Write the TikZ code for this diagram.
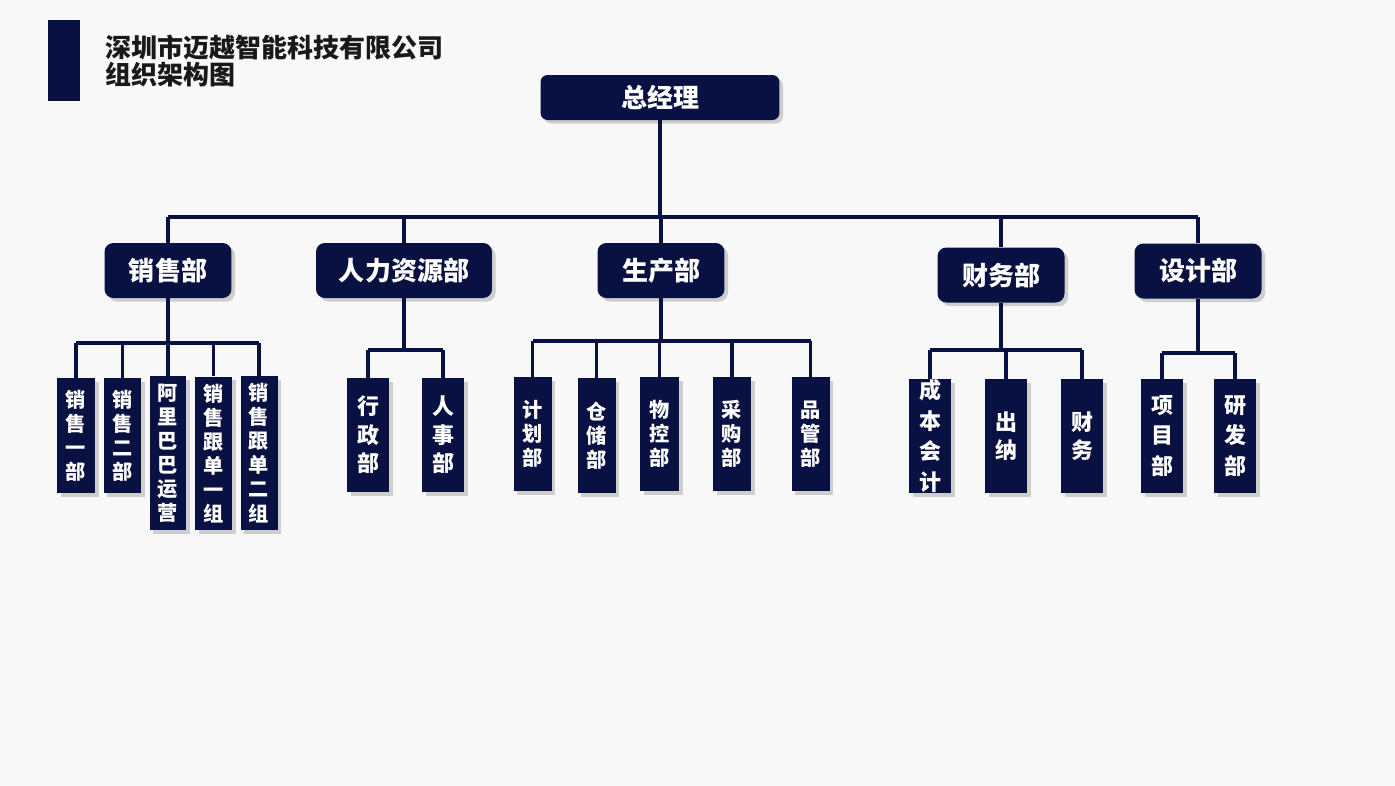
\documentclass[tikz,border=0pt]{standalone}
\usepackage{fontspec}
\setmainfont{Noto Sans CJK SC}
\usetikzlibrary{shadows}
\definecolor{navy}{RGB}{9,17,66}
\definecolor{paper}{RGB}{248,248,249}

\begin{document}
\begin{tikzpicture}[
    x=0.02cm, y=-0.02cm,
    head/.style={rectangle, rounded corners=4pt, fill=navy, text=white,
                 drop shadow={opacity=0.35, shadow xshift=2pt, shadow yshift=-2pt},
                 inner sep=0pt, font=\fontsize{14.8}{17}\selectfont\bfseries},
    dept/.style={head, rounded corners=5pt, minimum width=2.54cm, minimum height=1.1cm},
    unit/.style={rectangle, fill=navy, text=white, inner sep=0pt, align=center,
                 drop shadow={opacity=0.35, shadow xshift=2pt, shadow yshift=-2pt},
                 minimum width=0.76cm, minimum height=2.3cm,
                 font=\fontsize{11.5}{13.7}\selectfont\bfseries},
    wide/.style={unit, minimum width=0.84cm, minimum height=2.28cm,
                 font=\fontsize{12.5}{16.2}\selectfont\bfseries},
    tall/.style={unit, minimum width=0.74cm, minimum height=3.08cm},
    link/.style={draw=navy, line width=2.2pt}
  ]
    \fill[paper] (0,0) rectangle (1395,785);

    % title
    \node[fill=navy, minimum width=0.64cm, minimum height=1.62cm, inner sep=0pt,
          anchor=north west] (bar) at (48,20) {};
    \node[anchor=west, align=left, inner sep=0pt, text=black!90,
          font=\fontsize{14.8}{15.4}\selectfont\bfseries] (title) at (105,61)
          {深圳市迈越智能科技有限公司\\组织架构图};

    % top
    \node[head, minimum width=4.78cm, minimum height=0.9cm] (ceo) at (660,97.5) {总经理};

    % departments
    \node[dept] (sales)  at (168,270.5)  {销售部};
    \node[dept, minimum width=3.52cm] (hr) at (404,270.5) {人力资源部};
    \node[dept] (prod)   at (661,270.5)  {生产部};
    \node[dept] (fin)    at (1001,275)   {财务部};
    \node[dept] (design) at (1198,271)   {设计部};

    % units
    \node[unit] (s1) at (76,435.5)  {销\\售\\一\\部};
    \node[unit] (s2) at (122.5,435.5) {销\\售\\二\\部};
    \node[tall] (s3) at (168,453)   {阿\\里\\巴\\巴\\运\\营};
    \node[tall] (s4) at (213.5,453.5) {销\\售\\跟\\单\\一\\组};
    \node[tall] (s5) at (259,453)   {销\\售\\跟\\单\\二\\组};

    \node[wide] (h1) at (368,435) {行\\政\\部};
    \node[wide] (h2) at (443,435) {人\\事\\部};

    \node[unit, minimum height=2.28cm] (p1) at (532.5,434) {计\\划\\部};
    \node[unit] (p2) at (596.5,435.5) {仓\\储\\部};
    \node[unit, minimum width=0.78cm, minimum height=2.28cm] (p3) at (659.5,434) {物\\控\\部};
    \node[unit, minimum height=2.28cm] (p4) at (732,434) {采\\购\\部};
    \node[unit, minimum height=2.28cm] (p5) at (810.5,434) {品\\管\\部};

    \node[wide, font=\fontsize{12.5}{17.5}\selectfont\bfseries] (f1) at (930,436) {成\\本\\会\\计};
    \node[wide] (f2) at (1006,436) {出\\纳};
    \node[wide] (f3) at (1082,436) {财\\务};

    \node[wide, font=\fontsize{12.5}{17.5}\selectfont\bfseries] (d1) at (1162,436) {项\\目\\部};
    \node[wide, font=\fontsize{12.5}{17.5}\selectfont\bfseries] (d2) at (1235,436) {研\\发\\部};

    % level 1 links
    \coordinate (bus) at (0,217);
    \draw[link] (ceo.south) -- (ceo.south |- bus);
    \draw[link] (sales.north |- bus) -- (design.north |- bus);
    \foreach \n in {sales,hr,prod,fin,design}
      \draw[link] (\n.north |- bus) -- (\n.north);

    % level 2 links
    \draw[link] (sales.south) -- (sales.south |- 0,343);
    \draw[link] (s1.north |- 0,343) -- (s5.north |- 0,343);
    \foreach \n in {s1,s2,s3,s4,s5}
      \draw[link] (\n.north |- 0,343) -- (\n.north);

    \draw[link] (hr.south) -- (hr.south |- 0,350);
    \draw[link] (h1.north |- 0,350) -- (h2.north |- 0,350);
    \foreach \n in {h1,h2}
      \draw[link] (\n.north |- 0,350) -- (\n.north);

    \draw[link] (prod.south) -- (prod.south |- 0,341);
    \draw[link] (p1.north |- 0,341) -- (p5.north |- 0,341);
    \foreach \n in {p1,p2,p3,p4,p5}
      \draw[link] (\n.north |- 0,341) -- (\n.north);

    \draw[link] (fin.south) -- (fin.south |- 0,350);
    \draw[link] (f1.north |- 0,350) -- (f3.north |- 0,350);
    \foreach \n in {f1,f2,f3}
      \draw[link] (\n.north |- 0,350) -- (\n.north);

    \draw[link] (design.south) -- (design.south |- 0,353);
    \draw[link] (d1.north |- 0,353) -- (d2.north |- 0,353);
    \foreach \n in {d1,d2}
      \draw[link] (\n.north |- 0,353) -- (\n.north);
  \end{tikzpicture}
\end{document}
